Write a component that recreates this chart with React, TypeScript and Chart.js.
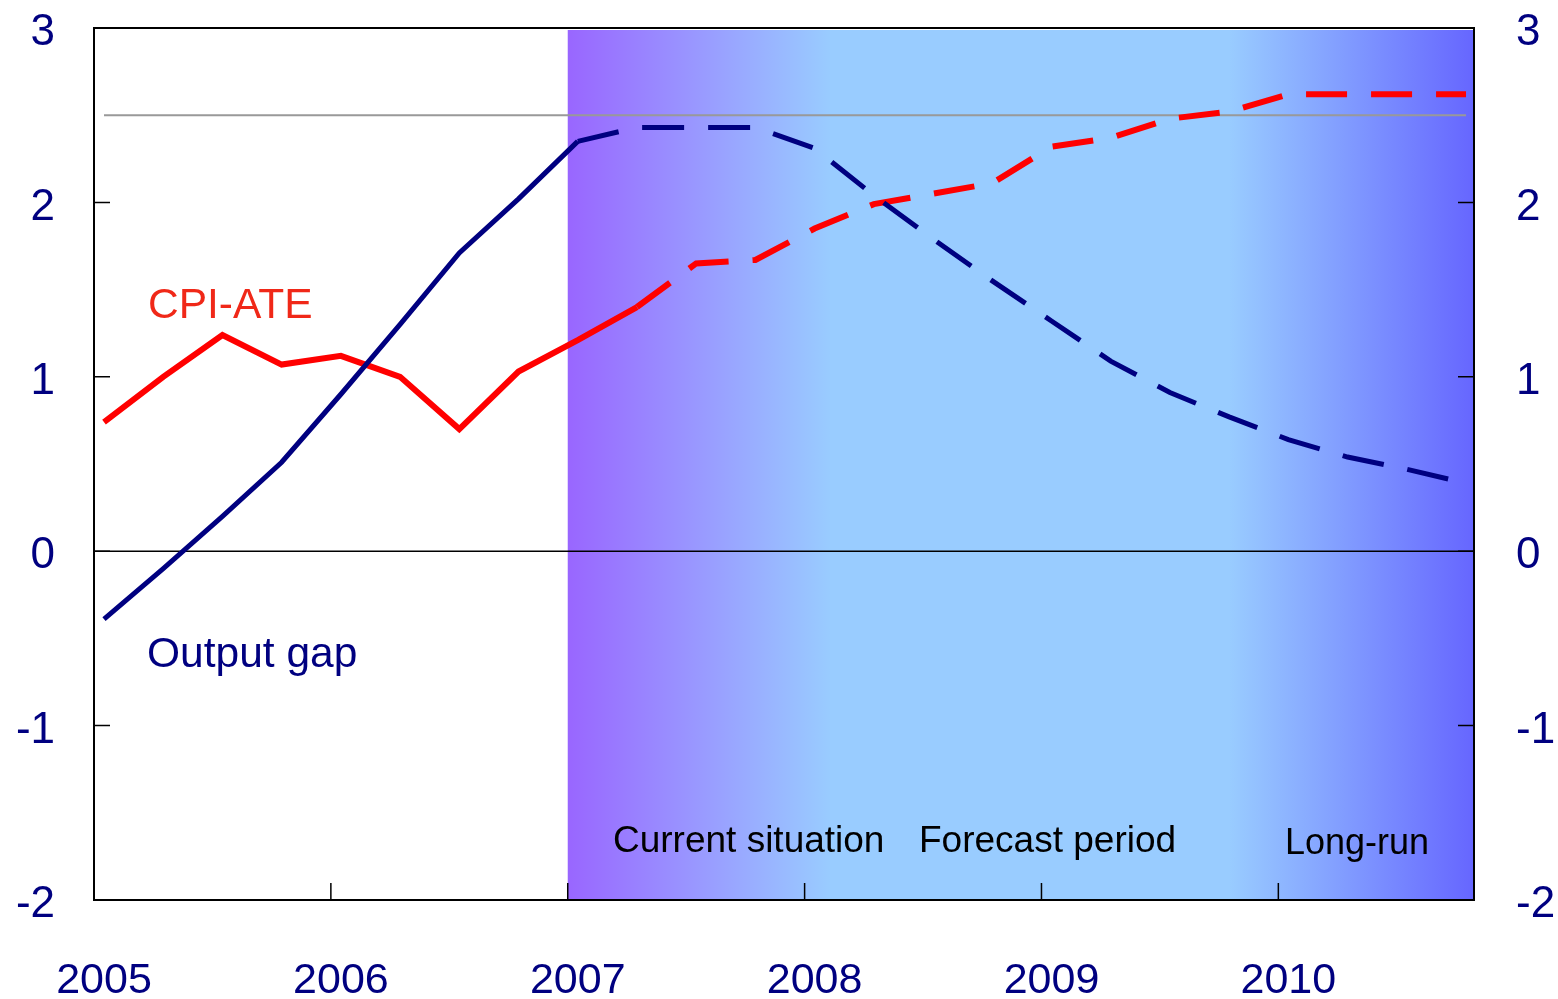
import React, { useEffect, useRef } from 'react';
import { Chart, registerables } from 'chart.js';

Chart.register(...registerables);

const FONT = '"Liberation Sans", Arial, Helvetica, sans-serif';
const NAVY = '#000080';
const RED = '#FF0000';

const quarters = [
  '2005Q1', '2005Q2', '2005Q3', '2005Q4',
  '2006Q1', '2006Q2', '2006Q3', '2006Q4',
  '2007Q1', '2007Q2', '2007Q3', '2007Q4',
  '2008Q1', '2008Q2', '2008Q3', '2008Q4',
  '2009Q1', '2009Q2', '2009Q3', '2009Q4',
  '2010Q1', '2010Q2', '2010Q3', '2010Q4',
];
const yearLabels = ['2005', '2006', '2007', '2008', '2009', '2010'];
const outputGap = [
  -0.39, -0.10, 0.20, 0.51, 0.90, 1.30, 1.71, 2.02,
  2.35, 2.43, 2.43, 2.43, 2.31, 2.04, 1.79, 1.55,
  1.32, 1.09, 0.91, 0.77, 0.64, 0.54, 0.47, 0.39,
];
const cpiAte = [
  0.74, 1.00, 1.24, 1.07, 1.12, 1.00, 0.70, 1.03,
  1.21, 1.40, 1.65, 1.67, 1.85, 1.99, 2.05, 2.11,
  2.32, 2.37, 2.48, 2.52, 2.62, 2.62, 2.62, 2.62,
];
const yTicks = [-2, -1, 0, 1, 2, 3];
const inflationTarget = 2.5;
const outputGapDashFrom = 8;
const cpiDashFrom = 9;

const XMIN = -0.169;
const XMAX = 23.135;

const annotations = [
  { text: 'CPI-ATE', x: 0.743, y: 1.339, color: 'rgb(240,40,24)', size: 42.5 },
  { text: 'Output gap', x: 0.726, y: -0.662, color: NAVY, size: 42.5 },
  { text: 'Current situation', x: 8.595, y: -1.723, color: '#000000', size: 37 },
  { text: 'Forecast period', x: 13.763, y: -1.723, color: '#000000', size: 37 },
  { text: 'Long-run', x: 19.944, y: -1.734, color: '#000000', size: 36 },
];

const decorPlugin = {
  id: 'decor',
  beforeDatasetsDraw(chart: any) {
    const { ctx, chartArea: ca, scales } = chart;
    const xs = scales.x;
    const ys = scales.y;
    ctx.save();
    // shaded forecast region
    const x0 = xs.getPixelForValue(XMIN + 8);
    const g = ctx.createLinearGradient(x0, 0, ca.right, 0);
    g.addColorStop(0, '#9966FF');
    g.addColorStop(0.29, '#99CCFF');
    g.addColorStop(0.73, '#99CCFF');
    g.addColorStop(1, '#6666FF');
    ctx.fillStyle = g;
    ctx.fillRect(x0, ca.top + 2, ca.right - x0, ca.bottom - ca.top - 2);
    // inflation target line
    const yt = ys.getPixelForValue(inflationTarget);
    ctx.strokeStyle = '#999999';
    ctx.lineWidth = 2;
    ctx.beginPath();
    ctx.moveTo(xs.getPixelForValue(0), yt);
    ctx.lineTo(xs.getPixelForValue(quarters.length - 1), yt);
    ctx.stroke();
    // zero line
    const y0 = ys.getPixelForValue(0);
    ctx.strokeStyle = '#000000';
    ctx.lineWidth = 1.5;
    ctx.beginPath();
    ctx.moveTo(ca.left, y0);
    ctx.lineTo(ca.right, y0);
    ctx.stroke();
    ctx.restore();
  },
  afterDatasetsDraw(chart: any) {
    const { ctx, chartArea: ca, scales } = chart;
    const xs = scales.x;
    const ys = scales.y;
    ctx.save();
    ctx.strokeStyle = '#000000';
    ctx.lineWidth = 2;
    ctx.strokeRect(ca.left, ca.top, ca.right - ca.left, ca.bottom - ca.top);
    ctx.lineWidth = 1.5;
    ctx.beginPath();
    yTicks.forEach((v) => {
      const y = ys.getPixelForValue(v);
      ctx.moveTo(ca.left, y);
      ctx.lineTo(ca.left + 16, y);
      ctx.moveTo(ca.right, y);
      ctx.lineTo(ca.right - 16, y);
    });
    yearLabels.forEach((_, k) => {
      const x = xs.getPixelForValue(XMIN + 4 * k);
      ctx.moveTo(x, ca.bottom);
      ctx.lineTo(x, ca.bottom - 17);
    });
    ctx.stroke();
    ctx.textAlign = 'left';
    ctx.textBaseline = 'alphabetic';
    annotations.forEach((a) => {
      ctx.font = `${a.size}px ${FONT}`;
      ctx.fillStyle = a.color;
      ctx.fillText(a.text, xs.getPixelForValue(a.x), ys.getPixelForValue(a.y));
    });
    ctx.restore();
  },
};

export default function App() {
  const ref = useRef<HTMLCanvasElement | null>(null);
  useEffect(() => {
    document.body.style.margin = '0';
    const canvas = ref.current;
    if (!canvas) return;
    const tickFont = { family: FONT, size: 44 };
    const zeroPad = (s: any) => {
      s.paddingTop = 0;
      s.paddingBottom = 0;
      s.paddingLeft = 0;
      s.paddingRight = 0;
    };
    const chart = new Chart(canvas, {
      type: 'line',
      data: {
        datasets: [
          {
            label: 'Output gap',
            data: quarters.map((_, i) => ({ x: i, y: outputGap[i] })),
            borderColor: NAVY,
            borderWidth: 5,
            pointRadius: 0,
            tension: 0,
            borderCapStyle: 'butt',
            yAxisID: 'y',
            segment: {
              borderDash: (c: any) => (c.p0DataIndex >= outputGapDashFrom ? [42, 24] : undefined),
            },
          },
          {
            label: 'CPI-ATE',
            data: quarters.map((_, i) => ({ x: i, y: cpiAte[i] })),
            borderColor: RED,
            borderWidth: 6,
            pointRadius: 0,
            tension: 0,
            borderCapStyle: 'butt',
            yAxisID: 'y',
            segment: {
              borderDash: (c: any) => (c.p0DataIndex >= cpiDashFrom ? [41, 24] : undefined),
            },
          },
        ],
      },
      options: {
        responsive: false,
        animation: false,
        layout: { padding: { top: 28, left: 0, right: 0, bottom: 0 } },
        plugins: { legend: { display: false }, tooltip: { enabled: false } },
        scales: {
          x: {
            type: 'linear',
            min: XMIN,
            max: XMAX,
            afterBuildTicks: (s: any) => {
              s.ticks = yearLabels.map((_, k) => ({ value: 4 * k }));
            },
            afterFit: (s: any) => {
              s.height = 99;
              zeroPad(s);
            },
            ticks: {
              autoSkip: false,
              maxRotation: 0,
              color: NAVY,
              font: { family: FONT, size: 43 },
              padding: 55,
              callback: (v: any) => yearLabels[Math.round(Number(v) / 4)] ?? '',
            },
            grid: { display: false, drawTicks: false },
            border: { display: false },
          },
          y: {
            position: 'left',
            min: -2,
            max: 3,
            afterBuildTicks: (s: any) => {
              s.ticks = yTicks.map((v) => ({ value: v }));
            },
            afterFit: (s: any) => {
              s.width = 94;
              zeroPad(s);
            },
            ticks: { color: NAVY, font: tickFont, padding: 39, labelOffset: 5 },
            grid: { display: false, drawTicks: false },
            border: { display: false },
          },
          y2: {
            position: 'right',
            display: true,
            min: -2,
            max: 3,
            afterBuildTicks: (s: any) => {
              s.ticks = yTicks.map((v) => ({ value: v }));
            },
            afterFit: (s: any) => {
              s.width = 84;
              zeroPad(s);
            },
            ticks: { color: NAVY, font: tickFont, padding: 42, labelOffset: 5 },
            grid: { display: false, drawTicks: false },
            border: { display: false },
          },
        },
      } as any,
      plugins: [decorPlugin],
    });
    return () => chart.destroy();
  }, []);
  return (
    <div style={{ width: 1558, height: 999 }}>
      <canvas ref={ref} width={1558} height={999} style={{ display: 'block' }} />
    </div>
  );
}
